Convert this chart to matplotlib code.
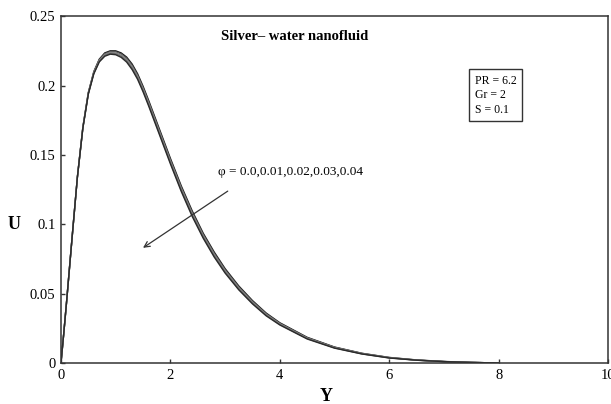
import matplotlib.pyplot as plt

plt.rcParams['font.family'] = ['Liberation Serif', 'DejaVu Serif']

# velocity profiles U(Y) for silver-water nanofluid, one per volume fraction
Y = [0, 0.05, 0.1, 0.2, 0.3, 0.4, 0.5, 0.6, 0.7, 0.8, 0.9, 1.0, 1.1, 1.2, 1.3, 1.4,
     1.5, 1.6, 1.8, 2.0, 2.2, 2.4, 2.6, 2.8, 3.0, 3.25, 3.5, 3.75, 4.0, 4.5, 5.0,
     5.5, 6.0, 6.5, 7.0, 7.5, 8.0]

U_phi00 = [0, 0.021, 0.043, 0.089, 0.134, 0.1700, 0.1950, 0.2100, 0.2190, 0.2235, 0.2250,
           0.2250, 0.2235, 0.2205, 0.2155, 0.2085, 0.1995, 0.1895, 0.1685, 0.1475, 0.1275,
           0.1095, 0.0935, 0.0800, 0.0680, 0.0555, 0.0450, 0.0360, 0.0290, 0.0185, 0.0115,
           0.0070, 0.0040, 0.0022, 0.0011, 0.0004, 0.0]
U_phi01 = [0, 0.021, 0.043, 0.089, 0.134, 0.1698, 0.1947, 0.2096, 0.2185, 0.2229, 0.2244,
           0.2243, 0.2227, 0.2196, 0.2145, 0.2075, 0.1985, 0.1885, 0.1675, 0.1465, 0.1265,
           0.1085, 0.0926, 0.0791, 0.0672, 0.0548, 0.0444, 0.0355, 0.0286, 0.0182, 0.0113,
           0.0069, 0.0039, 0.0021, 0.0010, 0.0004, 0.0]
U_phi02 = [0, 0.021, 0.043, 0.089, 0.134, 0.1696, 0.1944, 0.2092, 0.2180, 0.2223, 0.2238,
           0.2236, 0.2219, 0.2187, 0.2135, 0.2065, 0.1975, 0.1875, 0.1665, 0.1455, 0.1255,
           0.1075, 0.0917, 0.0782, 0.0664, 0.0541, 0.0438, 0.0350, 0.0282, 0.0179, 0.0111,
           0.0067, 0.0038, 0.0021, 0.0010, 0.0004, 0.0]
U_phi03 = [0, 0.021, 0.043, 0.089, 0.134, 0.1694, 0.1941, 0.2088, 0.2175, 0.2217, 0.2232,
           0.2229, 0.2211, 0.2178, 0.2125, 0.2055, 0.1965, 0.1865, 0.1655, 0.1445, 0.1245,
           0.1065, 0.0908, 0.0773, 0.0656, 0.0534, 0.0432, 0.0345, 0.0278, 0.0176, 0.0109,
           0.0066, 0.0037, 0.0020, 0.0010, 0.0004, 0.0]
U_phi04 = [0, 0.021, 0.043, 0.089, 0.134, 0.1692, 0.1938, 0.2084, 0.2170, 0.2211, 0.2226,
           0.2222, 0.2203, 0.2169, 0.2115, 0.2045, 0.1955, 0.1855, 0.1645, 0.1435, 0.1235,
           0.1055, 0.0899, 0.0764, 0.0648, 0.0527, 0.0426, 0.0340, 0.0274, 0.0173, 0.0107,
           0.0065, 0.0036, 0.0020, 0.0010, 0.0004, 0.0]

profiles = [U_phi00, U_phi01, U_phi02, U_phi03, U_phi04]
shades = ['#1a1a1a', '#555555', '#8a8a8a', '#6a6a6a', '#2a2a2a']

x_ticks = [0, 2, 4, 6, 8, 10]
y_ticks = [0, 0.05, 0.1, 0.15, 0.2, 0.25]
y_tick_labels = ['0', '0.05', '0.1', '0.15', '0.2', '0.25']

fig = plt.figure(figsize=(6.11, 4.04), dpi=100)
ax = fig.add_axes([0.0998, 0.1015, 0.8955, 0.8585])

for U, c in zip(profiles, shades):
    ax.plot(Y, U, color=c, lw=1.0)

ax.set_xlim(0, 10)
ax.set_ylim(0, 0.25)
ax.set_xticks(x_ticks)
ax.set_xticklabels([str(t) for t in x_ticks])
ax.set_yticks(y_ticks)
ax.set_yticklabels(y_tick_labels)
ax.tick_params(direction='in', length=3, width=1, labelsize=10.5, color='#333333', pad=4)
for s in ax.spines.values():
    s.set_linewidth(1.1)
    s.set_color('#333333')

ax.set_xlabel('Y', fontsize=13, fontweight='bold')
ax.xaxis.set_label_coords(0.485, -0.097)
ax.xaxis.label.set_va('center')
ax.set_ylabel('U', fontsize=13, fontweight='bold', rotation=0, va='center', ha='center')
ax.yaxis.set_label_coords(-0.085, 0.398)

ax.text(2.93, 0.235, 'Silver\u2013 water nanofluid', fontsize=10.5, fontweight='bold',
        va='center', ha='left')
ax.text(7.56, 0.193, 'PR = 6.2\nGr = 2\nS = 0.1', fontsize=8.5, va='center', ha='left',
        linespacing=1.3,
        bbox=dict(boxstyle='square,pad=0.45', fc='white', ec='#333333', lw=1))

ax.annotate('', xy=(1.457, 0.0819), xytext=(3.09, 0.125),
            arrowprops=dict(arrowstyle='->', color='#333333', lw=0.9))
ax.text(2.87, 0.1376, '\u03c6 = 0.0,0.01,0.02,0.03,0.04', fontsize=9.5, va='center', ha='left')

fig.savefig('out.png', dpi=100)
